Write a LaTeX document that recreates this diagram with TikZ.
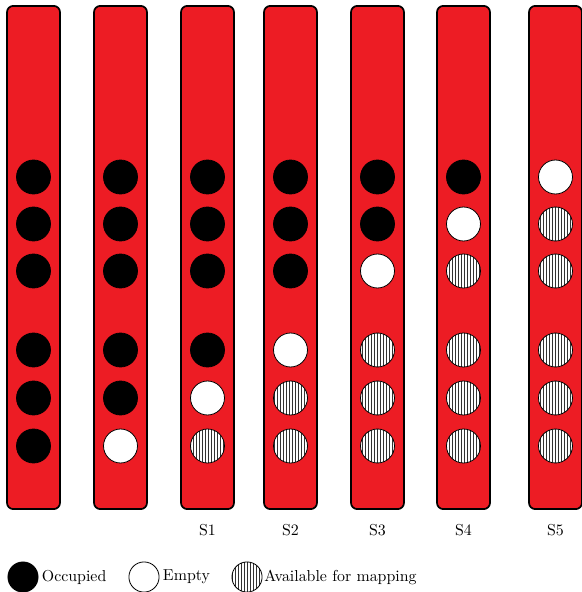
\documentclass[tikz,border=0pt]{standalone}
\usepackage{tikz}
\usetikzlibrary{positioning, patterns.meta}
\definecolor{slotRed}{HTML}{ED1C24}
\definecolor{hatchGrey}{HTML}{333333}

\begin{document}
\begin{tikzpicture}[x=0.63pt, y=-0.63pt, font=\normalsize,
    bar/.style={draw=black, line width=1.1pt, rounded corners=4pt, fill=slotRed,
                minimum width=33.4pt, minimum height=317pt, inner sep=0pt},
    slot/.style={circle, draw=black, line width=0.5pt, minimum size=21.4pt, inner sep=0pt},
    occ/.style={slot, fill=black},
    emp/.style={slot, fill=white},
    avail/.style={slot, preaction={fill=white},
                  pattern={Lines[angle=90, distance=1.9pt, line width=0.35pt]},
                  pattern color=hatchGrey},
    small/.style={minimum size=19pt}]
  \useasboundingbox (0,0) rectangle (582,592);
  % seven bars, six slots each
  \foreach \bx [count=\k] in {33.5,120.5,207.5,290.5,377.5,463.5,555.5} {
    \node[bar] (bar\k) at (\bx,257.5) {};
    \foreach \by [count=\j] in {177,224,271,350,398,446} {
      \ifnum\j<\numexpr8-\k\relax \def\st{occ}\else
        \ifnum\j=\numexpr8-\k\relax \def\st{emp}\else \def\st{avail}\fi\fi
      \node[\st] (c\k-\j) at (\bx,\by) {};
    }
  }
  \foreach \k/\n in {3/1, 4/2, 5/3, 6/4, 7/5}
    \path (bar\k.south) ++(0,20) node (lbl\k) {S\n};
  % legend
  \node[occ, small] (legOcc) at (23,577) {};
  \node[right=2pt of legOcc, inner sep=0pt] (txtOcc) {Occupied};
  \node[emp, small] (legEmp) at (144,577) {};
  \node[right=2pt of legEmp, inner sep=0pt] (txtEmp) {Empty};
  \node[avail, small] (legAvail) at (247,577) {};
  \node[right=1pt of legAvail, inner sep=0pt] (txtAvail) {Available for mapping};
\end{tikzpicture}
\end{document}
